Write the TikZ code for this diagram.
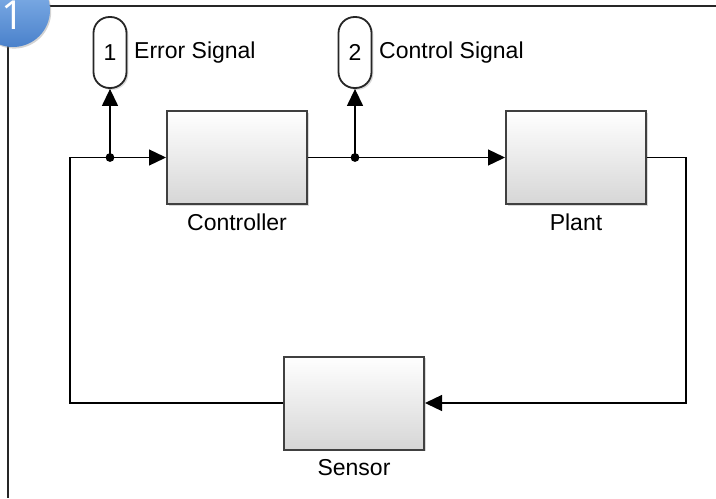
\documentclass[tikz,border=0pt]{standalone}
\usepackage{fontspec}
\setmainfont{Liberation Sans}
\newfontfamily\badgefont{Open Sans}
\usetikzlibrary{arrows.meta,positioning,shadows}

\definecolor{badgetop}{HTML}{8FBBEE}
\definecolor{badgebot}{HTML}{4A81CB}

\begin{document}
\begin{tikzpicture}[x=0.5pt, y=-0.5pt,
  font=\fontsize{11.5}{14}\selectfont,
  blk/.style={draw=black!75, line width=1pt, top color=white, bottom color=black!16,
    minimum width=70pt, minimum height=46.5pt, inner sep=0pt,
    drop shadow={shadow xshift=0.9pt, shadow yshift=-0.9pt, opacity=0.3}},
  port/.style={draw=black!85, line width=0.9pt, fill=white, rounded corners=8pt,
    minimum width=16.5pt, minimum height=35.5pt, inner sep=0pt,
    drop shadow={shadow xshift=0.9pt, shadow yshift=-0.9pt, opacity=0.3}},
  sig/.style={line width=0.65pt},
  a/.style={sig, -{Triangle[length=8.5pt, width=8pt]}},
  lbl/.style={inner sep=0pt},
  dot/.style={circle, fill=black, inner sep=0pt, minimum size=4.4pt}]

\useasboundingbox (0,0) rectangle (716,498);

% frame of the model window
\draw[line width=1.2pt, black!85] (716,6) -- (8,6) -- (8,498);

% blocks
\node[blk] (ctrl)   at (237,157.5) {};
\node[blk] (plant)  at (576,157.5) {};
\node[blk] (sensor) at (354,403) {};
\node[lbl, below=4.4pt of ctrl]   {Controller};
\node[lbl, below=4.4pt of plant]  {Plant};
\node[lbl, below=4.4pt of sensor] {Sensor};

% outports
\node[port] (port1) at (110,52.5) {1};
\node[port] (port2) at (355,52.5) {2};
\node[lbl, right=3.2pt of port1] {Error Signal};
\node[lbl, right=3.2pt of port2] {Control Signal};

% junctions and loop corners
\coordinate (j1) at (port1 |- ctrl.west);
\coordinate (j2) at (port2 |- ctrl.east);
\coordinate (cl) at (70,157.5);
\coordinate (cr) at (686,157.5);

% signal lines
\draw[a] (sensor.west) -| (cl) -- (ctrl.west);
\draw[a] (ctrl.east) -- (plant.west);
\draw[a] (plant.east) -- (cr) |- (sensor.east);
\draw[a] (j1) -- (port1.south);
\draw[a] (j2) -- (port2.south);
\node[dot] at (j1) {};
\node[dot] at (j2) {};

% step badge
\node[circle, minimum size=37pt, inner sep=0pt, top color=badgetop, bottom color=badgebot,
  drop shadow={shadow xshift=0.6pt, shadow yshift=-0.8pt, opacity=0.35}] (badge) at (13,10) {};
\node[text=white, font=\badgefont\fontsize{20}{20}\selectfont] at (12.5,15) {1};
\end{tikzpicture}
\end{document}
